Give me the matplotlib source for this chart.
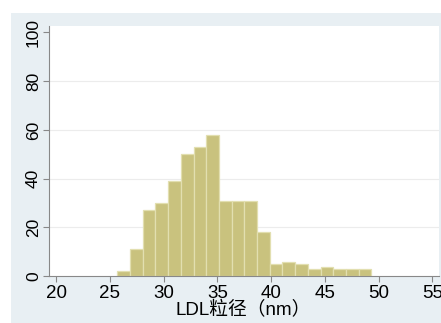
import numpy as np
import matplotlib
matplotlib.use('Agg')
import matplotlib.pyplot as plt
from matplotlib.patches import Rectangle

plt.rcParams['font.family'] = ['Liberation Sans', 'Noto Sans CJK SC']

# histogram of LDL particle size
bin_start = 25.68
bin_width = 1.1825
counts = [2, 11, 27, 30, 39, 50, 53, 58, 31, 31, 31, 18, 5, 6, 5, 3, 4, 3, 3, 3]
x_ticks = [20, 25, 30, 35, 40, 45, 50, 55]
y_ticks = [0, 20, 40, 60, 80, 100]
x_label = 'LDL粒径（nm）'

lefts = bin_start + bin_width * np.arange(len(counts))

fig = plt.figure(figsize=(4.41, 3.23), dpi=100, facecolor='white')
# stata-like outer background
bg = Rectangle((11 / 441, 0), 1, (323 - 13) / 323, transform=fig.transFigure,
               facecolor='#e8eff3', edgecolor='none', zorder=-10)
fig.add_artist(bg)

ax = fig.add_axes([49.3 / 441, (323 - 276.3) / 323, (439 - 49.3) / 441, (276.3 - 25.7) / 323])
ax.set_zorder(5)
ax.set_facecolor('white')

for y in y_ticks[1:-1]:
    ax.axhline(y, color='#ececec', linewidth=0.8, zorder=0)

ax.bar(lefts, counts, width=bin_width, align='edge', color='#c9c27e',
       edgecolor='#e2dfb0', linewidth=0.9, zorder=2)

ax.set_xlim(19.35, 55.63)
ax.set_ylim(0, 102.7)
ax.set_xticks(x_ticks)
ax.set_yticks(y_ticks)
ax.tick_params(axis='x', length=4, width=0.8, color='#888888', pad=2, labelsize=13.5)
ax.tick_params(axis='y', length=4, width=0.8, color='#888888', pad=2, labelsize=12.5)
for lab in ax.get_yticklabels():
    lab.set_rotation(90)
    lab.set_va('center')

for side in ['top', 'right']:
    ax.spines[side].set_visible(False)
for side in ['left', 'bottom']:
    ax.spines[side].set_color('#888888')
    ax.spines[side].set_linewidth(0.8)

ax.set_xlabel(x_label, fontsize=13.5)
ax.xaxis.label.set_va('center')
ax.xaxis.set_label_coords(0.497, -0.136)

fig.savefig('out.png', dpi=100, facecolor=fig.get_facecolor())
